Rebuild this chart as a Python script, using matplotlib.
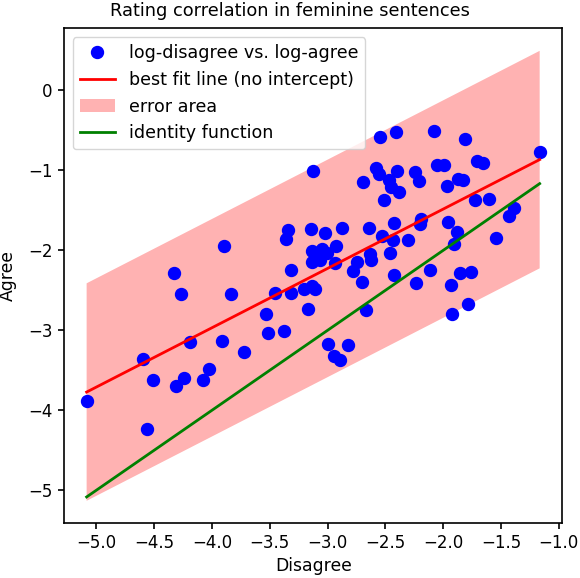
import matplotlib
matplotlib.use("Agg")
import matplotlib.pyplot as plt
import numpy as np

disagree = [-5.084, -4.56, -4.594, -4.508, -4.307, -4.244, -4.080, -4.022, -4.186, -3.916,
            -3.726, -4.330, -4.264, -3.896, -3.839, -3.537, -3.519, -3.373, -3.459, -3.318,
            -3.315, -3.168, -3.200, -3.105, -3.343, -3.364, -3.145, -3.131, -3.131, -3.136,
            -3.050, -3.093, -3.007, -3.065, -3.128, -2.547, -2.409, -2.081, -1.814, -1.166,
            -2.584, -2.553, -2.398, -2.694, -2.469, -2.455, -2.383, -2.512, -2.245, -2.211,
            -2.058, -1.995, -1.969, -1.871, -1.825, -1.708, -1.656, -1.727, -1.604, -1.388,
            -1.431, -1.540, -3.024, -2.872, -2.639, -2.426, -2.19, -2.20, -1.963, -1.883,
            -1.908, -2.927, -2.532, -2.432, -2.308, -2.461, -2.633, -2.625, -2.748, -2.783,
            -2.705, -2.935, -2.424, -2.118, -2.236, -1.857, -1.764, -1.934, -1.790, -1.923,
            -2.668, -2.993, -2.821, -2.941, -2.892]
agree = [-3.88, -4.23, -3.354, -3.617, -3.70, -3.596, -3.626, -3.479, -3.15, -3.14,
         -3.27, -2.287, -2.544, -1.944, -2.541, -2.795, -3.033, -3.008, -2.532, -2.532,
         -2.240, -2.732, -2.487, -2.487, -1.748, -1.856, -1.731, -2.011, -2.149, -2.449,
         -1.981, -2.053, -2.031, -2.116, -1.014, -0.584, -0.526, -0.505, -0.613, -0.776,
         -0.972, -1.043, -1.005, -1.143, -1.126, -1.205, -1.268, -1.373, -1.022, -1.139,
         -0.930, -0.930, -1.193, -1.105, -1.126, -0.885, -0.914, -1.373, -1.352, -1.468,
         -1.573, -1.852, -1.781, -1.727, -1.727, -1.656, -1.61, -1.67, -1.648, -1.773,
         -1.927, -1.940, -1.823, -1.877, -1.869, -2.031, -2.040, -2.124, -2.149, -2.253,
         -2.390, -2.160, -2.307, -2.244, -2.407, -2.282, -2.265, -2.437, -2.666, -2.791,
         -2.741, -3.170, -3.179, -3.325, -3.375]

fit_slope = 0.742
error_width = 1.36

x = np.array(disagree)
y = np.array(agree)
xs = np.sort(x)
fit = fit_slope * xs

fig = plt.figure(figsize=(5.8, 5.78), dpi=100)
ax = fig.add_axes([0.1103, 0.0946, 0.8592, 0.8564])
ax.plot(x, y, 'o', color='blue', markersize=8.6, label='log-disagree vs. log-agree')
ax.plot(xs, fit, color='red', lw=2, label='best fit line (no intercept)')
ax.fill_between(xs, fit - error_width, fit + error_width, facecolor='red', alpha=0.3,
                linewidth=0, label='error area')
ax.plot(xs, xs, color='green', lw=2, label='identity function')
ax.set_xlabel('Disagree', fontsize=12.4, labelpad=3)
ax.set_ylabel('Agree', fontsize=12.4, labelpad=8)
fig.text(0.5, 1 - 11.5 / 578, 'Rating correlation in feminine sentences', fontsize=12.8,
         ha='center', va='center')
ax.tick_params(labelsize=12, width=1.2, length=4.5)
for s in ax.spines.values():
    s.set_linewidth(1.2)
ax.legend(loc='upper left', fontsize=12.6)
fig.savefig('out.png', dpi=100)
